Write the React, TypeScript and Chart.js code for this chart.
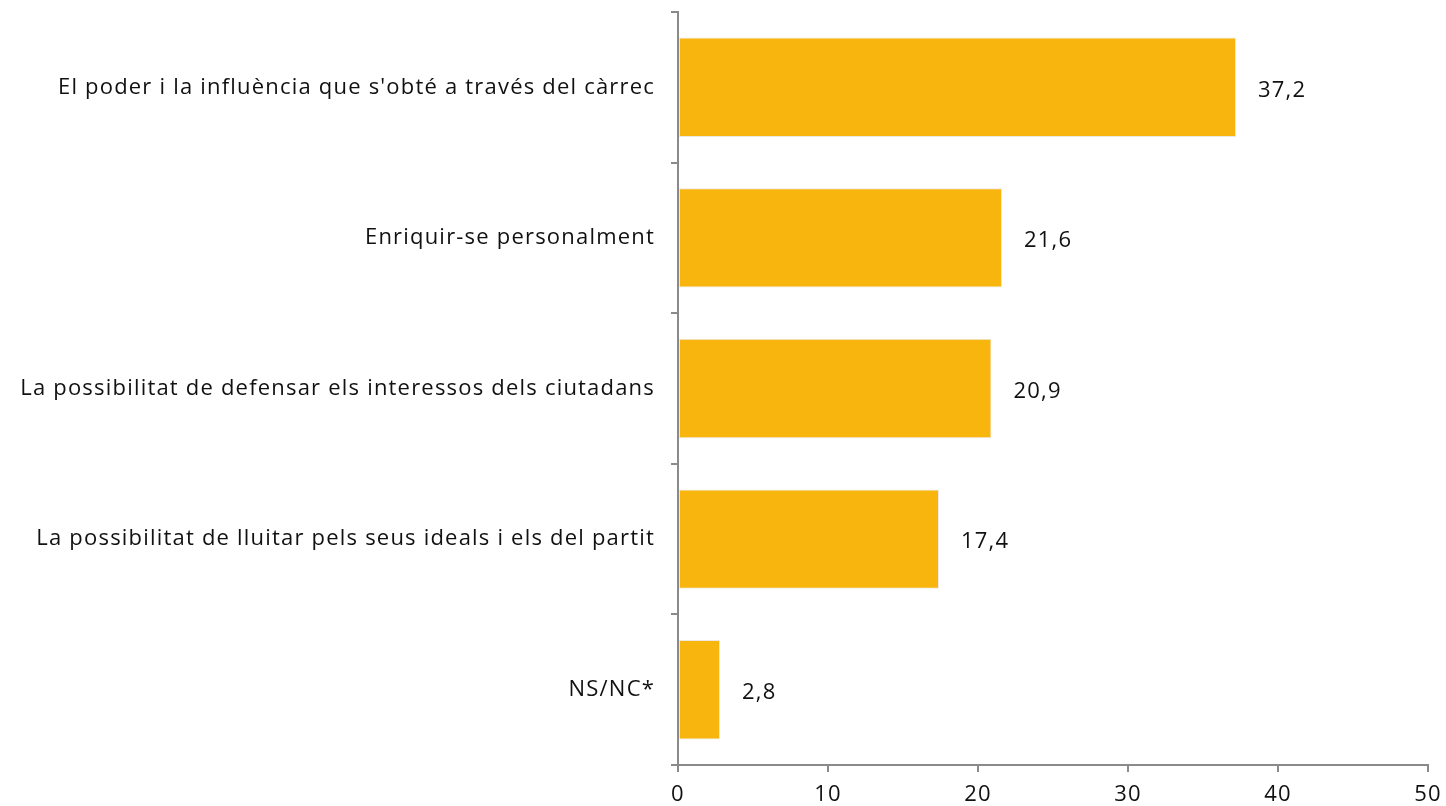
import React, { useEffect, useRef } from "react";
import { Chart, registerables } from "chart.js";

Chart.register(...registerables);

const categories = [
  "El poder i la influència que s'obté a través del càrrec",
  "Enriquir-se personalment",
  "La possibilitat de defensar els interessos dels ciutadans",
  "La possibilitat de lluitar pels seus ideals i els del partit",
  "NS/NC*",
];
const values = [37.2, 21.6, 20.9, 17.4, 2.8];
const valueLabels = ["37,2", "21,6", "20,9", "17,4", "2,8"];
const xTicks = [0, 10, 20, 30, 40, 50];

const FONT = "'Open Sans', 'Noto Sans', sans-serif";
const AXIS = "#8a8a8a";
const SPACING = "1.2px";

const spacingPlugin = {
  id: "spacing",
  beforeLayout(chart: any) {
    chart.ctx.letterSpacing = SPACING;
  },
  beforeDraw(chart: any) {
    chart.ctx.letterSpacing = SPACING;
  },
};

const labelPlugin = {
  id: "valueLabels",
  afterDatasetsDraw(chart: any) {
    const ctx = chart.ctx;
    const meta = chart.getDatasetMeta(0);
    ctx.save();
    ctx.letterSpacing = SPACING;
    ctx.font = `22px ${FONT}`;
    ctx.fillStyle = "#111";
    ctx.textAlign = "left";
    ctx.textBaseline = "middle";
    meta.data.forEach((bar: any, i: number) => {
      ctx.fillText(valueLabels[i], bar.x + 22, bar.y + 3);
    });
    ctx.restore();
  },
};

export default function App() {
  const ref = useRef<HTMLCanvasElement>(null);
  useEffect(() => {
    const chart = new Chart(ref.current!, {
      type: "bar",
      data: {
        labels: categories,
        datasets: [
          {
            data: values,
            backgroundColor: "#F8B50E",
            borderColor: "#ECE9E2",
            borderWidth: 1,
            borderSkipped: false,
            categoryPercentage: 1,
            barPercentage: 0.66,
          },
        ],
      },
      options: {
        indexAxis: "y",
        animation: false,
        responsive: false,
        maintainAspectRatio: false,
        layout: { padding: { top: 0, right: 18, left: 0, bottom: 0 } },
        plugins: { legend: { display: false }, tooltip: { enabled: false } },
        scales: {
          x: {
            min: 0,
            max: 50,
            afterBuildTicks(axis: any) {
              axis.ticks = xTicks.map((v) => ({ value: v }));
            },
            afterFit(axis: any) {
              axis.height = 41;
              axis.paddingRight = 0;
              axis.paddingLeft = 0;
            },
            grid: {
              drawOnChartArea: false,
              drawTicks: true,
              tickLength: 7,
              color: AXIS,
              lineWidth: 2,
            },
            border: { color: AXIS, width: 2 },
            ticks: {
              color: "#111",
              font: { family: FONT, size: 22 },
              padding: 10,
              maxRotation: 0,
            },
          },
          y: {
            offset: true,
            afterFit(axis: any) {
              axis.width = 678;
              axis.paddingTop = 12;
              axis.paddingBottom = 0;
            },
            grid: {
              offset: true,
              drawOnChartArea: false,
              drawTicks: true,
              tickLength: 7,
              color: AXIS,
              lineWidth: 2,
            },
            border: { color: AXIS, width: 2 },
            ticks: {
              color: "#111",
              font: { family: FONT, size: 22 },
              padding: 16,
            },
          },
        },
      },
      plugins: [spacingPlugin, labelPlugin],
    });
    return () => chart.destroy();
  }, []);
  return (
    <div style={{ position: "fixed", left: 0, top: 0, width: 1446, height: 806, background: "#fff" }}>
      <canvas ref={ref} width={1446} height={806} style={{ display: "block" }} />
    </div>
  );
}
